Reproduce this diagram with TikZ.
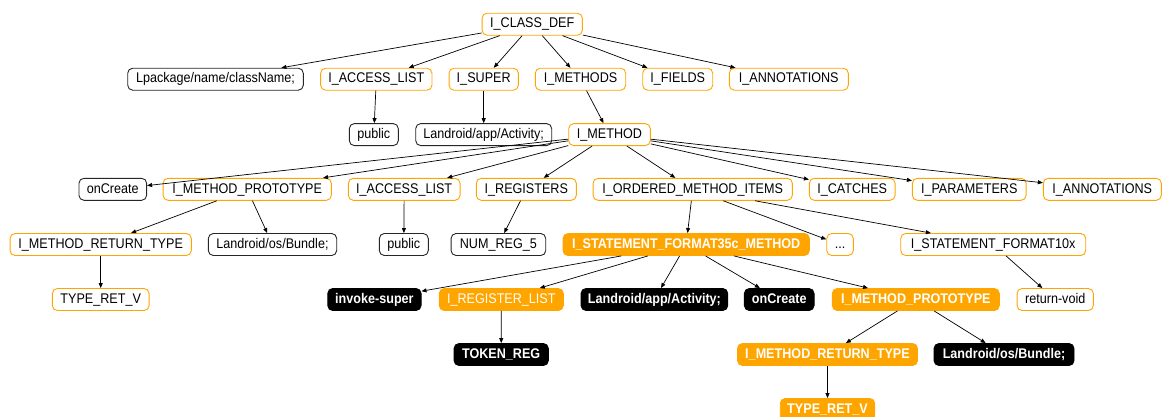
\documentclass[tikz,border=0pt]{standalone}
\usepackage{fontspec}
\setmainfont{Liberation Sans}[FakeStretch=0.9]
\usetikzlibrary{arrows.meta}
\definecolor{gvorange}{HTML}{FFA500}

\tikzset{
  base/.style={rounded corners=5pt, minimum height=22pt, inner sep=0pt,
    text height=10pt, text depth=2.5pt, font=\fontsize{14}{16}\selectfont, line width=0.9pt},
  ortree/.style={base, draw=gvorange, fill=white, text=black},
  bltree/.style={base, draw=black!85, fill=white, text=black},
  orfill/.style={base, draw=gvorange, fill=gvorange, text=white, font=\fontsize{14}{16}\selectfont\bfseries},
  orplain/.style={base, draw=gvorange, fill=gvorange, text=white},
  blfill/.style={base, draw=black, fill=black, text=white, font=\fontsize{14}{16}\selectfont\bfseries},
  edge/.style={-{Triangle[length=5pt,width=4pt]}, line width=0.7pt, black},
}

\begin{document}
\begin{tikzpicture}[x=1pt, y=-1pt]
\useasboundingbox (0,0) rectangle (1162,416);

% class level
\node[ortree, minimum width=100.3pt] (classdef) at (532.2,24.2) {I\_CLASS\_DEF};

\node[bltree, minimum width=175.6pt] (lpkg)    at (215.5,79.2) {Lpackage/name/className;};
\node[ortree, minimum width=111.3pt] (access1) at (376.3,79.2) {I\_ACCESS\_LIST};
\node[ortree, minimum width=69.3pt]  (super)   at (483.7,79.2) {I\_SUPER};
\node[ortree, minimum width=90.4pt]  (methods) at (580.5,79.2) {I\_METHODS};
\node[ortree, minimum width=70pt]    (fields)  at (677.7,79.2) {I\_FIELDS};
\node[ortree, minimum width=119pt]   (annot1)  at (788.8,79.2) {I\_ANNOTATIONS};

\node[bltree, minimum width=49pt]    (public1)   at (373.8,134.6) {public};
\node[bltree, minimum width=136pt]   (activity1) at (483.7,134.6) {Landroid/app/Activity;};
\node[ortree, minimum width=81.6pt]  (method)    at (609.5,134.6) {I\_METHOD};

% method level
\node[bltree, minimum width=67.7pt]  (oncreate1) at (112.8,189.3) {onCreate};
\node[ortree, minimum width=168.3pt] (proto1)    at (247.2,189.3) {I\_METHOD\_PROTOTYPE};
\node[ortree, minimum width=111.7pt] (access2)   at (404.2,189.3) {I\_ACCESS\_LIST};
\node[ortree, minimum width=100pt]   (registers) at (526.3,189.3) {I\_REGISTERS};
\node[ortree, minimum width=199.3pt] (ordered)   at (692.7,189.3) {I\_ORDERED\_METHOD\_ITEMS};
\node[ortree, minimum width=85.7pt]  (catches)   at (852.2,189.3) {I\_CATCHES};
\node[ortree, minimum width=113.7pt] (params)    at (969.2,189.3) {I\_PARAMETERS};
\node[ortree, minimum width=118pt]   (annot2)    at (1102.3,189.3) {I\_ANNOTATIONS};

\node[ortree, minimum width=181.3pt] (rettype1) at (100.7,244.5) {I\_METHOD\_RETURN\_TYPE};
\node[bltree, minimum width=128.4pt] (bundle1)  at (272.5,244.5) {Landroid/os/Bundle;};
\node[bltree, minimum width=49pt]    (public2)  at (403.8,244.5) {public};
\node[bltree, minimum width=94.7pt]  (numreg)   at (498.4,244.5) {NUM\_REG\_5};
\node[orfill, minimum width=246.3pt] (fmt35c)   at (686.2,244.5) {I\_STATEMENT\_FORMAT35c\_METHOD};
\node[ortree, minimum width=26.6pt]  (dots)     at (840,244.5) {...};
\node[ortree, minimum width=185pt]   (fmt10x)   at (993.2,244.5) {I\_STATEMENT\_FORMAT10x};

% statement level
\node[ortree, minimum width=96.7pt]  (typeret1)  at (100.7,299.5) {TYPE\_RET\_V};
\node[blfill, minimum width=93.3pt]  (invoke)    at (374.4,299.5) {invoke-super};
\node[orplain, minimum width=124pt]  (reglist)   at (501.3,299.5) {I\_REGISTER\_LIST};
\node[blfill, minimum width=146.7pt] (activity2) at (654.4,299.5) {Landroid/app/Activity;};
\node[blfill, minimum width=69.7pt]  (oncreate2) at (779.2,299.5) {onCreate};
\node[orfill, minimum width=167pt]   (proto2)    at (915.8,299.5) {I\_METHOD\_PROTOTYPE};
\node[ortree, minimum width=76.3pt]  (retvoid)   at (1055.2,299.5) {return-void};

\node[blfill, minimum width=94.3pt]  (tokenreg) at (501.2,354.5) {TOKEN\_REG};
\node[orfill, minimum width=180pt]   (rettype2) at (827.5,354.5) {I\_METHOD\_RETURN\_TYPE};
\node[blfill, minimum width=140pt]   (bundle2)  at (1004,354.5) {Landroid/os/Bundle;};

\node[orfill, minimum width=94.5pt]  (typeret2) at (827.5,409.5) {TYPE\_RET\_V};

% connectors
\foreach \t in {lpkg,access1,super,methods,fields,annot1}
  \draw[edge] (classdef) -- (\t);
\draw[edge] (access1) -- (public1);
\draw[edge] (super) -- (activity1);
\draw[edge] (methods) -- (method);
\foreach \t in {oncreate1,proto1,access2,registers,ordered,catches,params,annot2}
  \draw[edge] (method) -- (\t);
\draw[edge] (proto1) -- (rettype1);
\draw[edge] (proto1) -- (bundle1);
\draw[edge] (rettype1) -- (typeret1);
\draw[edge] (access2) -- (public2);
\draw[edge] (registers) -- (numreg);
\foreach \t in {fmt35c,dots,fmt10x}
  \draw[edge] (ordered) -- (\t);
\foreach \t in {invoke,reglist,activity2,oncreate2,proto2}
  \draw[edge] (fmt35c) -- (\t);
\draw[edge] (reglist) -- (tokenreg);
\draw[edge] (fmt10x) -- (retvoid);
\draw[edge] (proto2) -- (rettype2);
\draw[edge] (proto2) -- (bundle2);
\draw[edge] (rettype2) -- (typeret2);
\end{tikzpicture}
\end{document}
